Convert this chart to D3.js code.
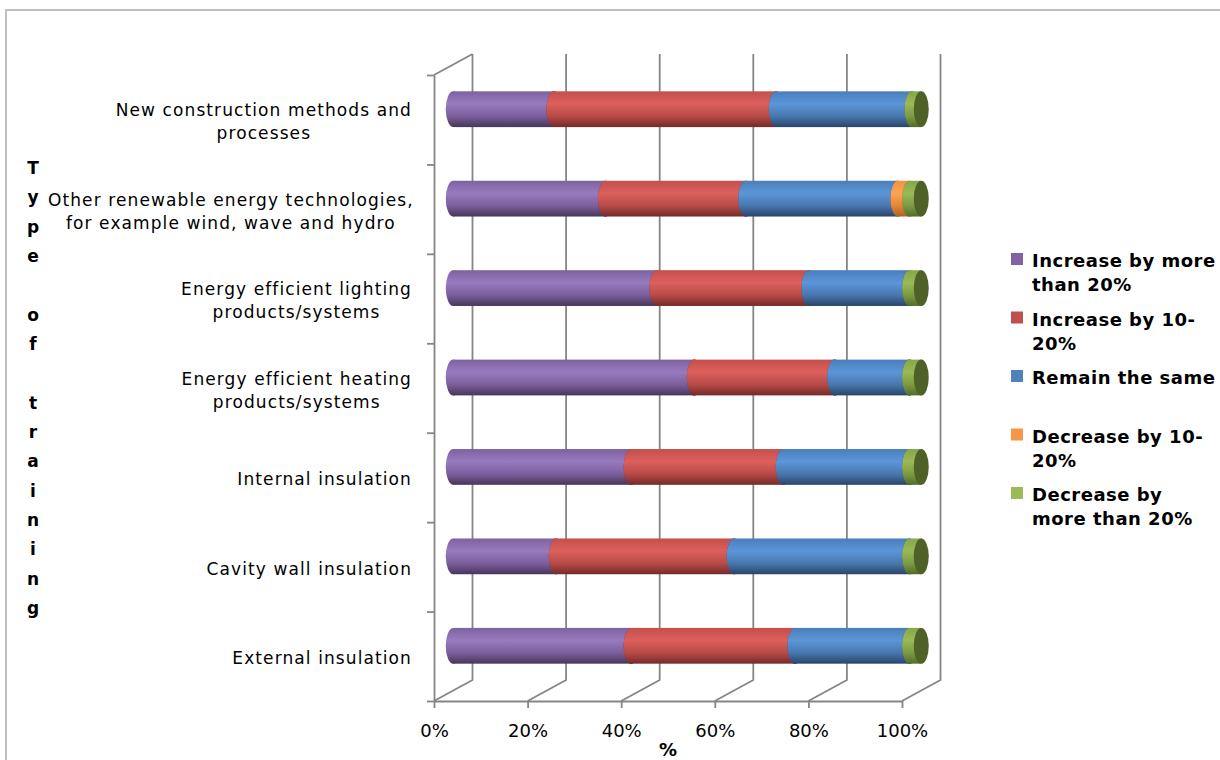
<!DOCTYPE html>
<html>
<head>
<meta charset="utf-8">
<script src="https://cdn.jsdelivr.net/npm/d3@7/dist/d3.min.js"></script>
<style>
  html, body { margin: 0; padding: 0; background: #fff; }
  svg { display: block; }
  .cat { font-family: "DejaVu Sans", sans-serif; font-size: 17px; letter-spacing: 1.1px; fill: #000; }
  .tick text { font-family: "DejaVu Sans", sans-serif; font-size: 18px; fill: #000; }
  .legend text { font-family: "DejaVu Sans", sans-serif; font-weight: bold; font-size: 18px; letter-spacing: 0.5px; fill: #000; }
  .title { font-family: "DejaVu Sans", sans-serif; font-weight: bold; font-size: 17px; fill: #000; }
</style>
</head>
<body>
<script>
// Training categories, top to bottom, with their wrapped label lines
const categories = [
  "New construction methods and processes",
  "Other renewable energy technologies, for example wind, wave and hydro",
  "Energy efficient lighting products/systems",
  "Energy efficient heating products/systems",
  "Internal insulation",
  "Cavity wall insulation",
  "External insulation"
];
const categoryLines = [
  ["New construction methods and", "processes"],
  ["Other renewable energy technologies,", "for example wind, wave and hydro"],
  ["Energy efficient lighting", "products/systems"],
  ["Energy efficient heating", "products/systems"],
  ["Internal insulation"],
  ["Cavity wall insulation"],
  ["External insulation"]
];

// Share of responses per category (%)
const increaseOver20 = [21.5, 32.5, 43.5, 51.5, 38, 22, 38];
const increase10to20 = [47.5, 30, 32.5, 30, 32.5, 38, 35];
const remainSame     = [29, 32.5, 21.5, 16, 27, 37.5, 24.5];
const decrease10to20 = [0, 2.5, 0, 0, 0, 0, 0];
const decreaseOver20 = [2, 2.5, 2.5, 2.5, 2.5, 2.5, 2.5];

const seriesNames = ["Increase by more than 20%", "Increase by 10-20%", "Remain the same",
                     "Decrease by 10-20%", "Decrease by more than 20%"];
const legendLines = [
  ["Increase by more", "than 20%"],
  ["Increase by 10-", "20%"],
  ["Remain the same"],
  ["Decrease by 10-", "20%"],
  ["Decrease by", "more than 20%"]
];
const xTicks = [0, 20, 40, 60, 80, 100];
const axisTitleY = "Type of training";
const axisTitleX = "%";

// Colours: flat legend swatch, cylinder shading stops, end-cap face
const swatch = ["#8064A2", "#C0504D", "#4F81BD", "#F79646", "#9BBB59"];
const shade = [
  ["#7d62a0", "#987bbf", "#7a5e9c", "#463759"],
  ["#c44f4c", "#dc605c", "#b84a47", "#732b29"],
  ["#4a7ebd", "#5c96d8", "#4877ae", "#29446a"],
  ["#f3913f", "#fba655", "#e48536", "#ad6224"],
  ["#86a748", "#9aba57", "#7c9a42", "#526c29"]
];
const capFace = ["#4f3d66", "#7f3230", "#2f4f78", "#b86a2a", "#4e6227"];

const W = 1220, H = 760;
const svg = d3.select("body").append("svg").attr("width", W).attr("height", H);

// chart border
svg.append("rect").attr("x", 6).attr("y", 10).attr("width", 1240).attr("height", 780)
  .attr("fill", "#fff").attr("stroke", "#bfbfbf").attr("stroke-width", 2);

// 3-D projection: front floor edge, back wall offset
const plotTop = 75, plotBottom = 701;
const depthX = 38.5, depthY = -21;
const x = d3.scaleLinear().domain([0, 100]).range([434, 902]);
const y = d3.scaleBand().domain(categories).range([plotTop, plotBottom]).padding(0);
const yEdge = d3.scaleLinear().domain([0, categories.length]).range([plotTop, plotBottom]);
const barH = y.bandwidth() * 0.4;
const capRx = 7.5;
const barX = v => x(v) + depthX / 2;
const barCY = c => y(c) + y.bandwidth() / 2 + depthY / 2;

// gradients for cylinder shading
const defs = svg.append("defs");
shade.forEach((s, i) => {
  const g = defs.append("linearGradient").attr("id", "cyl" + i)
    .attr("x1", 0).attr("y1", 0).attr("x2", 0).attr("y2", 1);
  [[0, s[0]], [0.35, s[1]], [0.7, s[2]], [1, s[3]]].forEach(([o, c]) =>
    g.append("stop").attr("offset", o).attr("stop-color", c));
});

const gridColor = "#858585";
const gridWidth = 1.8;

// back wall gridlines with their floor returns
const grid = svg.append("g").attr("fill", "none").attr("stroke", gridColor).attr("stroke-width", gridWidth);
grid.selectAll("path.grid").data(xTicks).join("path").attr("class", "grid")
  .attr("d", v => `M${x(v) + depthX},${plotTop + depthY}V${plotBottom + depthY}L${x(v)},${plotBottom}`);
grid.append("path").attr("d", `M${x(0)},${plotTop}L${x(0) + depthX},${plotTop + depthY}`);

// value axis along the front edge of the floor
const xAxis = svg.append("g").attr("transform", `translate(0,${plotBottom})`)
  .call(d3.axisBottom(x).tickValues(xTicks).tickFormat(d => d + "%").tickSize(7).tickSizeOuter(0));
xAxis.select(".domain").attr("stroke", gridColor).attr("stroke-width", gridWidth);
xAxis.selectAll(".tick line").attr("stroke", gridColor).attr("stroke-width", gridWidth);
xAxis.selectAll(".tick text").attr("y", 36).attr("dy", 0);

// category axis with ticks between categories
const yAxis = svg.append("g").attr("transform", `translate(${x(0)},0)`)
  .call(d3.axisLeft(yEdge).tickValues(d3.range(categories.length + 1)).tickFormat("").tickSize(7).tickSizeOuter(0));
yAxis.select(".domain").attr("stroke", gridColor).attr("stroke-width", gridWidth);
yAxis.selectAll(".tick line").attr("stroke", gridColor).attr("stroke-width", gridWidth);

// stacked cylinders
const rows = categories.map((c, i) => ({
  cat: c,
  vals: [increaseOver20[i], increase10to20[i], remainSame[i], decrease10to20[i], decreaseOver20[i]]
}));
const bars = svg.append("g");
rows.forEach(r => {
  const cy = barCY(r.cat);
  const g = bars.append("g");
  let acc = 0;
  const segs = [];
  r.vals.forEach((v, k) => { if (v > 0) segs.push({ k, a: acc, b: acc + v }); acc += v; });
  g.selectAll("g.seg").data(segs).join("g").attr("class", "seg").each(function (s) {
    const sg = d3.select(this);
    sg.append("ellipse").attr("cx", barX(s.a)).attr("cy", cy).attr("rx", capRx).attr("ry", barH / 2)
      .attr("fill", `url(#cyl${s.k})`);
    sg.append("rect").attr("x", barX(s.a)).attr("y", cy - barH / 2)
      .attr("width", barX(s.b) - barX(s.a)).attr("height", barH).attr("fill", `url(#cyl${s.k})`);
    sg.append("ellipse").attr("cx", barX(s.b)).attr("cy", cy).attr("rx", capRx).attr("ry", barH / 2)
      .attr("fill", capFace[s.k]);
  });
});

// category labels, right-aligned block with centred lines
const labelRight = 412, labelLeftMin = 48, lineH = 23;
categories.forEach((c, i) => {
  const lines = categoryLines[i];
  const cy = y(c) + y.bandwidth() / 2;
  const t = svg.append("g");
  const texts = lines.map((ln, j) => t.append("text").attr("class", "cat")
    .attr("text-anchor", "middle")
    .attr("y", cy + (j - (lines.length - 1) / 2) * lineH + 8).text(ln));
  const maxW = d3.max(texts, tx => tx.node().getComputedTextLength());
  let cx = labelRight - maxW / 2;
  if (cx - maxW / 2 < labelLeftMin) cx = labelLeftMin + maxW / 2;
  texts.forEach(tx => tx.attr("x", cx));
});

// vertical axis title, one letter per line
const letters = axisTitleY.split("");
const letterStep = 29.35, titleMid = 388;
letters.forEach((ch, i) => {
  svg.append("text").attr("class", "title").attr("text-anchor", "middle")
    .attr("x", 33).attr("y", titleMid + (i - (letters.length - 1) / 2) * letterStep + 6).text(ch);
});

// horizontal axis title
svg.append("text").attr("class", "title").attr("text-anchor", "middle")
  .style("font-size", "18px")
  .attr("x", (x(0) + x(100)) / 2).attr("y", 756).text(axisTitleX);

// legend
const legend = svg.append("g").attr("class", "legend");
const legY0 = 267, legStep = 58.5;
seriesNames.forEach((name, i) => {
  const by = legY0 + i * legStep;
  legend.append("rect").attr("x", 1011).attr("y", by - 14).attr("width", 12).attr("height", 12)
    .attr("fill", swatch[i]);
  legendLines[i].forEach((ln, j) => {
    legend.append("text").attr("x", 1032).attr("y", by + j * 24).text(ln);
  });
});
</script>
</body>
</html>
